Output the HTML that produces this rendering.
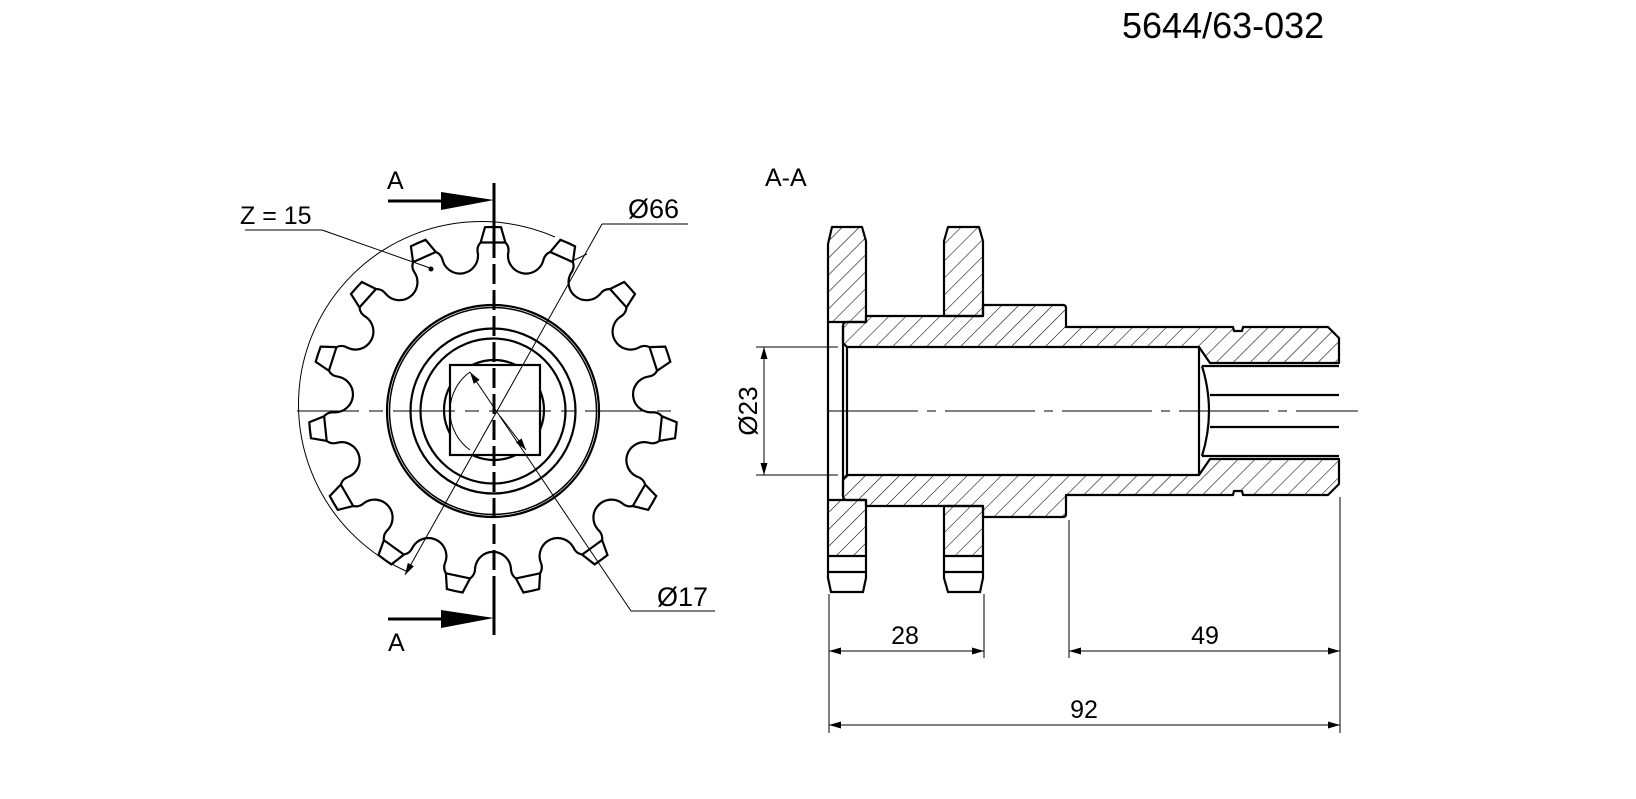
<!DOCTYPE html>
<html><head><meta charset="utf-8"><style>
html,body{margin:0;padding:0;background:#fff;}
svg{display:block;}
text{font-family:"Liberation Sans",Arial,sans-serif;fill:#000;}
</style></head><body>
<svg id="s" width="1636" height="799" viewBox="0 0 1636 799" xmlns="http://www.w3.org/2000/svg">
<defs>
<pattern id="h" patternUnits="userSpaceOnUse" width="12" height="12" patternTransform="rotate(45)">
<line x1="0" y1="-2" x2="0" y2="14" stroke="#000" stroke-width="1.1"/>
</pattern>
<marker id="a" viewBox="0 0 12 7" refX="12" refY="3.5" markerUnits="userSpaceOnUse" markerWidth="12" markerHeight="7" orient="auto-start-reverse">
<path d="M0,0 L12,3.5 L0,7 Z" fill="#000"/>
</marker>
</defs>

<text x="1122" y="38" font-size="36">5644/63-032</text>

<g id="gear" fill="none" stroke="#000" stroke-width="2.2"></g>
<g fill="none" stroke="#000">
<path d="M555,237 A182,182 0 1 0 408,572" stroke-width="1"/>
<circle cx="493" cy="411" r="106" stroke-width="2.2"/>
<circle cx="493" cy="411" r="103.5" stroke-width="1.5"/>
<circle cx="493" cy="411" r="82.5" stroke-width="2.2"/>
<circle cx="493" cy="411" r="72.5" stroke-width="2.2"/>
<circle cx="494" cy="410" r="50" stroke-width="2.2"/>
<rect x="450" y="365" width="90" height="90" fill="#fff" stroke-width="2.2"/>
<path d="M470,372 A48,48 0 0 0 470,450" stroke-width="1"/>
<line x1="297" y1="411" x2="680" y2="411" stroke-width="1" stroke-dasharray="62,10,14,10"/>
<line x1="494" y1="183" x2="494" y2="238" stroke-width="3"/>
<line x1="494" y1="238" x2="494" y2="588" stroke-width="3" stroke-dasharray="20,6"/>
<line x1="494" y1="588" x2="494" y2="635" stroke-width="3"/>
<line x1="405" y1="575" x2="602" y2="224" stroke-width="1" marker-start="url(#a)"/>
<line x1="602" y1="224" x2="688" y2="224" stroke-width="1"/>
<line x1="570" y1="262" x2="587" y2="254" stroke-width="1"/>
<line x1="470" y1="372" x2="631" y2="611" stroke-width="1" marker-start="url(#a)"/>
<line x1="500" y1="416" x2="526" y2="450" stroke-width="1" marker-end="url(#a)"/>
<line x1="631" y1="611" x2="715" y2="611" stroke-width="1"/>
<line x1="245" y1="230" x2="322" y2="230" stroke-width="1"/>
<line x1="322" y1="230" x2="430" y2="268" stroke-width="1"/>
</g>
<circle cx="431" cy="269" r="2.5" fill="#000"/>
<text x="240" y="224" font-size="25">Z = 15</text>
<text x="628" y="218" font-size="27">Ø66</text>
<text x="657" y="606" font-size="27">Ø17</text>
<line x1="388" y1="201" x2="442" y2="201" stroke="#000" stroke-width="3"/>
<polygon points="441,192 494,200 441,210" fill="#000"/>
<line x1="388" y1="619" x2="442" y2="619" stroke="#000" stroke-width="3"/>
<polygon points="441,610 494,618 441,628" fill="#000"/>
<text x="387" y="189" font-size="25">A</text>
<text x="388" y="651" font-size="25">A</text>

<text x="765" y="186" font-size="25">A-A</text>
<g stroke="#000" stroke-width="2.2" fill="url(#h)" stroke-linejoin="round">
<path d="M828,244 L832,227 L862,227 L866,241 L866,322 L828,322 Z"/>
<path d="M944,241 L948,227 L979,227 L983,241 L983,316 L944,316 Z"/>
<path d="M843,326 Q843,322 847,322 L866,322 L866,316 L983,316 L983,305 L1063,305 Q1066,305 1066,308 L1066,327 L1233,327 L1234,331 L1242,331 L1243,327 L1328,327 L1339,338 L1339,363 L1210,363 L1199,347 L847,347 L843,343 Z"/>
<path d="M843,496 Q843,500 847,500 L866,500 L866,506 L983,506 L983,517 L1063,517 Q1066,517 1066,514 L1066,495 L1233,495 L1234,491 L1242,491 L1243,495 L1328,495 L1339,484 L1339,459 L1210,459 L1199,475 L847,475 L843,479 Z"/>
<path d="M828,500 L866,500 L866,556 L828,556 Z"/>
<path d="M944,506 L983,506 L983,556 L944,556 Z"/>
</g>
<g stroke="#000" stroke-width="2.2" fill="none">
<path d="M828,556 L828,578 L831,592 L863,592 L866,578 L866,556 M828,572 L866,572"/>
<path d="M944,556 L944,578 L948,592 L980,592 L983,578 L983,556 M944,572 L983,572"/>
<line x1="828" y1="322" x2="828" y2="500"/>
<line x1="843" y1="326" x2="843" y2="496"/>
<line x1="847" y1="347" x2="847" y2="475"/>
<line x1="1199" y1="347" x2="1199" y2="475"/>
<path d="M1202,366 Q1216,411 1202,456"/>
<line x1="1202" y1="366" x2="1339" y2="366"/>
<line x1="1202" y1="456" x2="1339" y2="456"/>
<line x1="1210" y1="395" x2="1339" y2="395"/>
<line x1="1210" y1="427" x2="1339" y2="427"/>
</g>
<g stroke="#000" stroke-width="1" fill="none">
<line x1="828" y1="411" x2="1358" y2="411" stroke-dasharray="90,9,9,9"/>
<line x1="756" y1="347" x2="838" y2="347"/>
<line x1="756" y1="475" x2="838" y2="475"/>
<line x1="764" y1="347" x2="764" y2="475" marker-start="url(#a)" marker-end="url(#a)"/>
<line x1="829" y1="594" x2="829" y2="733"/>
<line x1="984" y1="594" x2="984" y2="658"/>
<line x1="1069" y1="520" x2="1069" y2="658"/>
<line x1="1340" y1="497" x2="1340" y2="733"/>
<line x1="829" y1="651" x2="984" y2="651" marker-start="url(#a)" marker-end="url(#a)"/>
<line x1="1069" y1="651" x2="1340" y2="651" marker-start="url(#a)" marker-end="url(#a)"/>
<line x1="829" y1="725" x2="1340" y2="725" marker-start="url(#a)" marker-end="url(#a)"/>
</g>
<text x="748" y="411" font-size="26" text-anchor="middle" transform="rotate(-90 748 411)" dy="9">Ø23</text>
<text x="905" y="644" font-size="25" text-anchor="middle">28</text>
<text x="1205" y="644" font-size="25" text-anchor="middle">49</text>
<text x="1084" y="718" font-size="25" text-anchor="middle">92</text>
</svg>
<script>
(function(){
var cx=493,cy=411,d="",lines="";
function P(r,a){a=a*Math.PI/180;return [(cx+r*Math.cos(a)).toFixed(1),(cy+r*Math.sin(a)).toFixed(1)];}
for(var k=0;k<15;k++){
 var t=-90+24*k;
 var f1=P(158,t-5.5),q1=P(165,t-5.8),c1=P(169,t-4.2),t1=P(184,t-2.5),t2=P(184,t+2.5),c2=P(169,t+4.2),q2=P(165,t+5.8),f2=P(158,t+5.5),n=P(158,t+24-5.5);
 d+=(k==0?"M"+f1:"")+" Q"+q1+" "+c1+" L"+t1+" A184,184 0 0 1 "+t2+" L"+c2+" Q"+q2+" "+f2+" A18,18 0 0 0 "+n+" ";
 lines+='<line x1="'+c1[0]+'" y1="'+c1[1]+'" x2="'+c2[0]+'" y2="'+c2[1]+'"/>';
}
d+="Z";
document.getElementById("gear").innerHTML='<path d="'+d+'"/>'+lines;
})();
</script>
</body></html>
